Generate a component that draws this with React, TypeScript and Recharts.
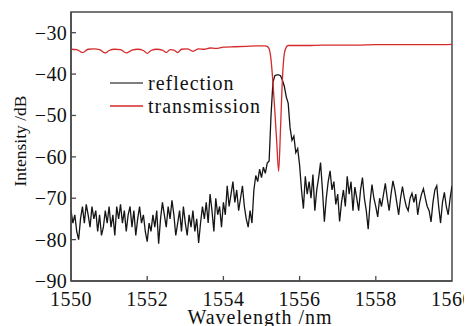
import React from 'react';
import { LineChart, Line, XAxis, YAxis, ReferenceArea } from 'recharts';

const reflectionStart = 1550;
const reflectionStep = 0.05;
const reflectionDb = [
  -73, -76, -74, -78, -80, -75, -72, -76, -71.5, -74,
  -77, -72, -75, -73, -78, -74, -79, -77, -73, -76,
  -72, -77, -74, -79, -72, -75, -71.5, -76, -73, -78,
  -74, -72, -77, -73, -79, -75, -72, -76, -74, -78,
  -80.5, -76, -78, -74, -77, -73, -81, -75, -71, -74,
  -77, -72, -75, -70.5, -74, -79, -76, -73, -78, -72,
  -76, -79, -74, -77, -73, -78, -75, -80.8, -76, -72,
  -75, -71, -76, -69, -73, -78, -70, -74, -72, -77,
  -71, -74, -67, -72, -69, -66, -71, -68, -73, -70,
  -67, -72, -75, -77, -73, -76, -68, -64.5, -66, -63,
  -65, -62.5, -64, -61.5, -61, -50, -42, -40.4, -40.2, -40.2,
  -40.4, -41.5, -43, -45.5, -47, -53, -56, -55, -59, -58,
  -62, -68, -72.5, -64.7, -69, -66, -70, -64.3, -73, -68,
  -65, -61.4, -68, -75.7, -70, -66, -63.4, -68, -66, -71.5,
  -69, -75.6, -71, -68, -72, -64.7, -69, -66, -73, -67.3,
  -70, -73, -68, -65, -70, -73, -77.5, -71, -66.7, -70,
  -72, -74.5, -70, -72, -69.2, -66.4, -70, -73, -69, -65.8,
  -68, -71, -74, -70, -67.2, -70, -72, -73, -70, -68.8,
  -71, -69, -74, -71, -69, -67.7, -70, -72, -73, -75.7,
  -71, -68, -67, -72, -76, -71, -68.6, -72, -74, -70,
  -67,
];

const transmissionWl = [
  1550.0, 1550.15, 1550.3, 1550.45, 1550.6, 1550.75, 1550.9, 1551.0, 1551.15, 1551.3,
  1551.45, 1551.6, 1551.75, 1551.9, 1552.0, 1552.1, 1552.25, 1552.4, 1552.5, 1552.6,
  1552.7, 1552.8, 1552.9, 1553.05, 1553.2, 1553.35, 1553.5, 1553.65, 1553.8, 1554.0,
  1554.3, 1554.6, 1554.9, 1555.1, 1555.15, 1555.2, 1555.25, 1555.3, 1555.35, 1555.4,
  1555.45, 1555.5, 1555.55, 1555.6, 1555.65, 1555.7, 1555.8, 1556.2, 1556.6, 1557.0,
  1557.5, 1558.0, 1558.5, 1559.0, 1559.5, 1560.0,
];
const transmissionDb = [
  -34.0, -34.1, -34.8, -34.0, -33.9, -34.1, -34.9, -34.3, -34.0, -34.1,
  -34.9, -34.2, -34.0, -34.3, -35.0, -34.3, -34.0, -34.2, -34.8, -34.1,
  -34.2, -34.8, -34.0, -33.9, -34.5, -33.9, -34.0, -33.7, -33.8, -33.5,
  -33.4, -33.3, -33.2, -33.2, -33.3, -33.9, -36.5, -42, -49, -56.5,
  -63.5, -53, -41, -35, -33.5, -33.1, -33.1, -33.1, -33.0, -33.0,
  -33.0, -32.9, -32.9, -32.9, -32.9, -32.8,
];

const xTicks = [1550, 1552, 1554, 1556, 1558, 1560];
const yTicks = [-90, -80, -70, -60, -50, -40, -30];
const legendLabels = ['reflection', 'transmission'];

const reflectionData = reflectionDb.map((v, i) => ({
  wl: +(reflectionStart + reflectionStep * i).toFixed(2),
  r: v,
}));
const transmissionData = transmissionWl.map((w, i) => ({ wl: w, t: transmissionDb[i] }));

const FONT = 'Liberation Serif';
const AXIS = '#4a4a4a';
const RED = '#d42a2c';
const BLACK = '#151515';

const fmt = (v: number) => (v < 0 ? '\u2212' + Math.abs(v) : String(v));

const XTick = (props: any) => {
  const { x, y, payload } = props;
  const v = payload.value;
  const showLine = v !== 1550 && v !== 1560;
  return (
    <g>
      {showLine && <line x1={x} x2={x} y1={y} y2={y - 5} stroke={AXIS} strokeWidth={1.3} />}
      <text x={x} y={y + 25} textAnchor="middle" fontFamily={FONT} fontSize={20} letterSpacing={0.5} fill="#111">
        {fmt(v)}
      </text>
    </g>
  );
};

const YTick = (props: any) => {
  const { x, y, payload } = props;
  const v = payload.value;
  const showLine = v !== -90;
  return (
    <g>
      {showLine && <line x1={x} x2={x + 5} y1={y} y2={y} stroke={AXIS} strokeWidth={1.3} />}
      <text x={x - 4} y={y + 7} textAnchor="end" fontFamily={FONT} fontSize={20} letterSpacing={0.3} fill="#111">
        {fmt(v)}
      </text>
    </g>
  );
};

export default function App() {
  return (
    <LineChart width={464} height={318} margin={{ top: 4, right: 20, bottom: 0, left: 0 }}>
      <XAxis
        type="number"
        dataKey="wl"
        domain={[1550, 1560]}
        ticks={xTicks}
        allowDataOverflow
        height={45}
        tickSize={0}
        tickMargin={0}
        tickLine={false}
        axisLine={{ stroke: AXIS, strokeWidth: 1.5 }}
        tick={<XTick />}
        interval={0}
      />
      <YAxis
        type="number"
        domain={[-90, -25]}
        ticks={yTicks}
        allowDataOverflow
        width={63}
        tickSize={0}
        tickMargin={0}
        tickLine={false}
        axisLine={{ stroke: AXIS, strokeWidth: 1.5 }}
        tick={<YTick />}
        interval={0}
      />
      <ReferenceArea x1={1550} x2={1560} y1={-90} y2={-25} fill="none" stroke={AXIS} strokeWidth={1.5} fillOpacity={0} />
      <Line data={reflectionData} dataKey="r" stroke={BLACK} strokeWidth={1.3} dot={false} isAnimationActive={false} type="linear" />
      <Line data={transmissionData} dataKey="t" stroke={RED} strokeWidth={1.3} dot={false} isAnimationActive={false} type="monotone" />
      <g>
        <line x1={102} x2={135} y1={75} y2={75} stroke="#555" strokeWidth={1.6} />
        <text x={140} y={82} fontFamily={FONT} fontSize={20} letterSpacing={1} fill="#111">{legendLabels[0]}</text>
        <line x1={102} x2={135} y1={98} y2={98} stroke={RED} strokeWidth={1.6} />
        <text x={140} y={105} fontFamily={FONT} fontSize={20} letterSpacing={1} fill="#111">{legendLabels[1]}</text>
      </g>
      <text x={252} y={316} textAnchor="middle" fontFamily={FONT} fontSize={20} letterSpacing={1} fill="#111">
        Wavelength /nm
      </text>
      <text x={18} y={133} transform="rotate(-90 18 133)" textAnchor="middle" fontFamily={FONT} fontSize={17.5} fill="#111">
        Intensity /dB
      </text>
    </LineChart>
  );
}
